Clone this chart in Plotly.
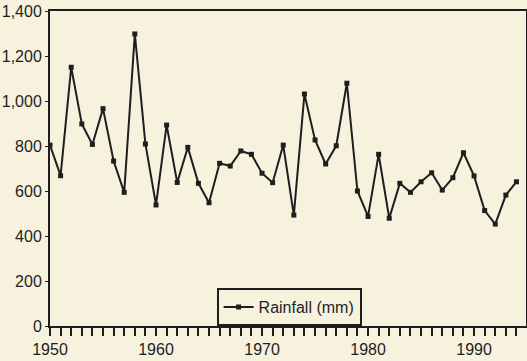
import plotly.graph_objects as go

years = list(range(1950, 1995))
rainfall_mm = [804, 668, 1150, 898, 807, 966, 733, 594, 1298, 809,
               538, 893, 638, 794, 634, 548, 723, 711, 778, 763,
               679, 637, 804, 493, 1031, 827, 720, 801, 1079, 600,
               487, 763, 479, 634, 594, 641, 681, 604, 659, 770,
               667, 513, 453, 582, 641]
x_tick_vals = [1950, 1960, 1970, 1980, 1990]
y_tick_vals = [0, 200, 400, 600, 800, 1000, 1200, 1400]

bg = "#f7f2de"
ink = "#1e1e1e"
font = dict(family="Liberation Sans, Arial, sans-serif", size=16, color=ink)

fig = go.Figure()
fig.add_trace(go.Scatter(
    x=years, y=rainfall_mm, mode="lines+markers", name="Rainfall (mm)",
    line=dict(color=ink, width=2),
    marker=dict(symbol="square", size=5, color=ink),
))

fig.update_layout(
    width=527, height=361,
    margin=dict(l=50, r=1, t=11, b=35),
    paper_bgcolor=bg, plot_bgcolor=bg,
    font=font,
    showlegend=True,
    legend=dict(x=0.35, y=0, xanchor="left", yanchor="bottom",
                bgcolor=bg, bordercolor=ink, borderwidth=2,
                font=font),
    xaxis=dict(range=[1950, 1994.9], tickvals=x_tick_vals, ticks="outside",
               ticklen=8, tickwidth=1.5, tickcolor=ink, automargin=False,
               minor=dict(dtick=1, tick0=1950, ticks="outside", ticklen=8, tickwidth=1.5, tickcolor=ink),
               showline=True, linecolor=ink, linewidth=2, mirror=True,
               showgrid=False, zeroline=False),
    yaxis=dict(range=[0, 1400], tickvals=y_tick_vals, tickformat=",d", ticks="outside",
               ticklen=3, tickcolor=ink, automargin=False,
               showline=True, linecolor=ink, linewidth=2, mirror=True,
               showgrid=False, zeroline=False),
)

fig.write_html("out.html", config={"displayModeBar": False},
               post_script="document.body.style.margin='0';document.body.style.background='%s';" % bg)
